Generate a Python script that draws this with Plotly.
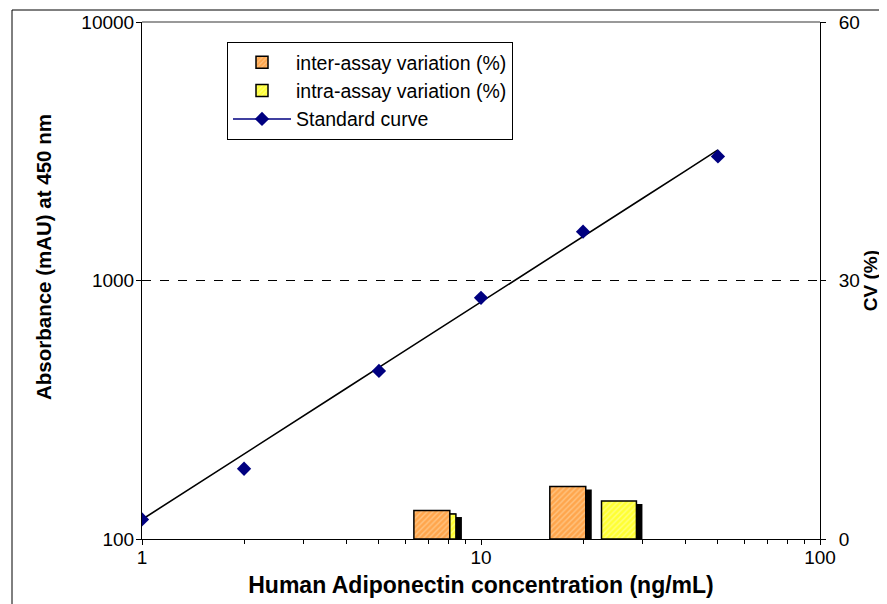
import plotly.graph_objects as go

# ---- data ----
std_conc = [1, 2, 5, 10, 20, 50]                       # ng/mL
std_abs = [119, 187, 447, 857, 1545, 3020]              # mAU
curve_conc = [1, 1.5, 2, 3, 4, 5, 7, 10, 15, 20, 30, 40, 50]
curve_abs = [119, 167, 213, 300, 382, 461, 611, 825, 1160, 1478, 2080, 2650, 3200]
cv_samples = ["Low", "High"]
inter_cv = [3.3, 6.1]      # %
intra_cv = [2.9, 4.4]      # %

# ---- layout constants (bar slots on a hidden log10-space axis) ----
inter_pos = [0.855, 1.256]
inter_w = [0.106, 0.106]
intra_pos = [0.917, 1.407]
intra_w = [0.018, 0.103]
shadow_dx = 0.0177
shadow_dy = 0.35

FONT = "Arial, Liberation Sans, sans-serif"
ORANGE = "#FFA64D"
ORANGE_FG = "#FFE2B8"
YELLOW = "#FFFF33"
YELLOW_FG = "#FFFFC8"

fig = go.Figure()

# shadows
for pos, w, vals in [(inter_pos, inter_w, inter_cv), (intra_pos, intra_w, intra_cv)]:
    fig.add_trace(go.Bar(
        x=[p + shadow_dx for p in pos], y=vals, width=w, base=[-shadow_dy] * len(vals),
        marker=dict(color="black", line=dict(width=0)), xaxis="x2", yaxis="y2",
        showlegend=False, hoverinfo="skip", cliponaxis=False))

fig.add_trace(go.Bar(
    x=inter_pos, y=inter_cv, width=inter_w, name="inter-assay variation (%)",
    text=cv_samples, textposition="none",
    marker=dict(color=ORANGE, line=dict(color="black", width=1.5),
                pattern=dict(shape="/", fgcolor=ORANGE_FG, size=4, solidity=0.35)),
    xaxis="x2", yaxis="y2"))
fig.add_trace(go.Bar(
    x=intra_pos, y=intra_cv, width=intra_w, name="intra-assay variation (%)",
    text=cv_samples, textposition="none",
    marker=dict(color=YELLOW, line=dict(color="black", width=1.5),
                pattern=dict(shape="/", fgcolor=YELLOW_FG, size=4, solidity=0.35)),
    xaxis="x2", yaxis="y2"))

# fitted curve
fig.add_trace(go.Scatter(x=curve_conc, y=curve_abs, mode="lines",
                         line=dict(color="black", width=1.6), showlegend=False,
                         hoverinfo="skip"))
# standard points
fig.add_trace(go.Scatter(x=std_conc, y=std_abs, mode="markers",
                         marker=dict(symbol="diamond", color="#000080", size=11),
                         showlegend=False))
# legend entry for standard curve
fig.add_trace(go.Scatter(x=[None], y=[None], mode="lines+markers", name="Standard curve",
                         line=dict(color="#000080", width=1.5),
                         marker=dict(symbol="diamond", color="#000080", size=11)))

L, R, T, B = 134, 75, 14, 73
W, H = 887, 604
pw, ph = W - L - R, H - T - B


def px_x(p):
    return (p - L) / pw


def px_y(p):
    return (H - B - p) / ph


fig.update_layout(
    width=W, height=H,
    margin=dict(l=L, r=R, t=T, b=B, autoexpand=False),
    paper_bgcolor="white", plot_bgcolor="white",
    font=dict(family=FONT, size=19, color="black"),
    barmode="overlay",
    xaxis=dict(type="log", range=[0, 2], tickvals=[1, 10, 100], ticktext=["1", "10", "100"],
               ticks="outside", ticklen=5, tickcolor="black", showline=True,
               linecolor="black", linewidth=1, showgrid=False, zeroline=False,
               ticklabelstandoff=-4,
               minor=dict(tickvals=[2, 3, 4, 5, 6, 7, 8, 9, 20, 30, 40, 50, 60, 70, 80, 90],
                          ticks="outside", ticklen=4, tickcolor="black", showgrid=False),
               title=dict(text="<b>Human Adiponectin concentration (ng/mL)</b>",
                          font=dict(size=23), standoff=10)),
    xaxis2=dict(overlaying="x", range=[0, 2], visible=False, showgrid=False,
                zeroline=False),
    yaxis=dict(type="log", range=[2, 4], tickvals=[100, 1000, 10000],
               ticktext=["100", "1000", "10000"], ticks="outside", ticklen=5,
               tickcolor="black", showline=True, linecolor="black", linewidth=1,
               showgrid=True, gridcolor="black", griddash="dash", gridwidth=1,
               zeroline=False, ticklabelstandoff=-2),
    yaxis2=dict(overlaying="y", side="right", anchor="x", range=[0, 60],
                tickvals=[0, 30, 60], ticks="outside", ticklen=5, tickcolor="black",
                showline=True, linecolor="black", linewidth=1, showgrid=False,
                zeroline=False, ticklabelstandoff=9,
                title=dict(text="<b>CV (%)</b>", font=dict(size=19), standoff=2)),
    legend=dict(x=px_x(219), y=px_y(34), xanchor="left", yanchor="top",
                bgcolor="white", bordercolor="black", borderwidth=1,
                font=dict(size=19.5), traceorder="normal", tracegroupgap=0,
                itemwidth=58),
    annotations=[
        dict(text="<b>Absorbance (mAU) at 450 nm</b>", textangle=-90,
             xref="paper", yref="paper", x=px_x(35), y=px_y(249),
             xanchor="center", yanchor="middle", showarrow=False,
             font=dict(size=20.5)),
    ],
    shapes=[
        dict(type="line", xref="paper", yref="paper", x0=0, x1=1, y0=1, y1=1,
             line=dict(color="#999999", width=2), layer="above"),
        dict(type="rect", xref="paper", yref="paper",
             x0=px_x(4), x1=px_x(882), y0=px_y(600), y1=px_y(2),
             line=dict(color="black", width=1), layer="below"),
    ],
)

fig.write_html("out.html")
